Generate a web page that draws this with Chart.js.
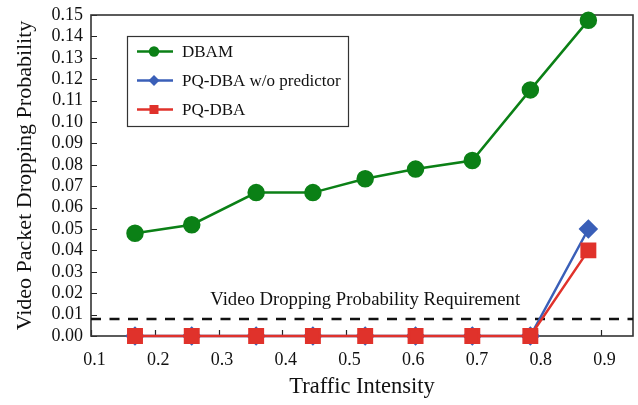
<!DOCTYPE html>
<html>
<head>
<meta charset="utf-8">
<script src="https://cdn.jsdelivr.net/npm/chart.js@4"></script>
<style>
  html, body { margin: 0; padding: 0; background: #fff; }
  #wrap { width: 638px; height: 405px; }
</style>
</head>
<body>
<div id="wrap"><canvas id="dropChart"></canvas></div>
<script>
// traffic intensity of each run
const trafficX = [0.169, 0.258, 0.359, 0.448, 0.530, 0.609, 0.698, 0.789, 0.880];

const dbamVals = [0.048, 0.052, 0.067, 0.067, 0.0735, 0.078, 0.082, 0.115, 0.1475];
const pqNoPredVals = [0, 0, 0, 0, 0, 0, 0, 0, 0.050];
const pqDbaVals = [0, 0, 0, 0, 0, 0, 0, 0, 0.040];

const xTicks = [0.1, 0.2, 0.3, 0.4, 0.5, 0.6, 0.7, 0.8, 0.9];
const yTicks = [0, 0.01, 0.02, 0.03, 0.04, 0.05, 0.06, 0.07, 0.08, 0.09, 0.10, 0.11, 0.12, 0.13, 0.14, 0.15];

const requirement = 0.008;
const reqLabel = 'Video Dropping Probability Requirement';
const reqLabelPos = { x: 0.53, y: 0.0170 };

const serif = '"Liberation Serif", "DejaVu Serif", serif';
const GREEN = '#0b8016';
const BLUE = '#3a5fb8';
const RED = '#e0322b';

function toPoints(vals) {
    return vals.map((v, i) => ({ x: trafficX[i], y: v }));
}

// keep the plot box exactly where the figure has it
function noScalePadding(s) {
    s.paddingLeft = 0;
    s.paddingRight = 0;
    s.paddingTop = 0;
    s.paddingBottom = 0;
}

// frame + inward ticks under the lines, requirement text and boxed legend on top
const decorPlugin = {
    id: 'decor',
    beforeDatasetsDraw(chart) {
        const ctx = chart.ctx;
        const a = chart.chartArea;
        const xs = chart.scales.x;
        const ys = chart.scales.y;
        ctx.save();

        ctx.strokeStyle = '#222';
        ctx.lineWidth = 1.2;
        ctx.beginPath();
        xTicks.forEach(t => {
            const px = Math.round(xs.getPixelForValue(t)) + 0.5;
            ctx.moveTo(px, a.bottom);
            ctx.lineTo(px, a.bottom - 6);
        });
        yTicks.forEach(t => {
            const py = Math.round(ys.getPixelForValue(t)) + 0.5;
            ctx.moveTo(a.left, py);
            ctx.lineTo(a.left + 6, py);
        });
        ctx.stroke();

        ctx.strokeStyle = '#333';
        ctx.lineWidth = 1.6;
        ctx.strokeRect(a.left, a.top, a.right - a.left, a.bottom - a.top);
        ctx.restore();
    },
    afterDatasetsDraw(chart) {
        const ctx = chart.ctx;
        const a = chart.chartArea;
        const xs = chart.scales.x;
        const ys = chart.scales.y;
        ctx.save();

        // requirement label
        ctx.fillStyle = '#111';
        ctx.font = '18.7px ' + serif;
        ctx.textAlign = 'center';
        ctx.textBaseline = 'middle';
        ctx.fillText(reqLabel, xs.getPixelForValue(reqLabelPos.x), ys.getPixelForValue(reqLabelPos.y));

        // legend
        const bx = a.left + 36, by = a.top + 21, bw = 221, bh = 90;
        ctx.fillStyle = '#fff';
        ctx.fillRect(bx, by, bw, bh);
        ctx.strokeStyle = '#333';
        ctx.lineWidth = 1.2;
        ctx.strokeRect(bx + 0.5, by + 0.5, bw, bh);

        const entries = chart.data.datasets
            .filter(d => d.inLegend)
            .sort((p, q) => q.order - p.order);
        entries.forEach((d, i) => {
            const y = by + 15.5 + i * 29;
            ctx.strokeStyle = d.borderColor;
            ctx.lineWidth = d.borderWidth;
            ctx.beginPath();
            ctx.moveTo(bx + 10, y);
            ctx.lineTo(bx + 46, y);
            ctx.stroke();

            // legend markers are drawn smaller than the plot ones
            const mx = bx + 27;
            ctx.fillStyle = d.pointBackgroundColor;
            ctx.beginPath();
            if (d.pointStyle === 'circle') {
                ctx.arc(mx, y, 5.2, 0, Math.PI * 2);
            } else if (d.pointStyle === 'rect') {
                ctx.rect(mx - 4.5, y - 4.5, 9, 9);
            } else {
                const s = 5.5;
                ctx.moveTo(mx, y - s);
                ctx.lineTo(mx + s, y);
                ctx.lineTo(mx, y + s);
                ctx.lineTo(mx - s, y);
                ctx.closePath();
            }
            ctx.fill();

            ctx.fillStyle = '#111';
            ctx.font = '17px ' + serif;
            ctx.textAlign = 'left';
            ctx.textBaseline = 'middle';
            ctx.fillText(d.label, bx + 55, y + 1);
        });

        ctx.restore();
    }
};

const ctx = document.getElementById('dropChart').getContext('2d');
const chart = new Chart(ctx, {
    type: 'line',
    data: {
        datasets: [
            {
                label: 'PQ-DBA',
                data: toPoints(pqDbaVals),
                borderColor: RED,
                backgroundColor: RED,
                pointBackgroundColor: RED,
                pointBorderColor: RED,
                pointStyle: 'rect',
                pointRadius: 9.5,
                borderWidth: 2.5,
                clip: false,
                order: 0,
                inLegend: true
            },
            {
                label: 'PQ-DBA w/o predictor',
                data: toPoints(pqNoPredVals),
                borderColor: BLUE,
                backgroundColor: BLUE,
                pointBackgroundColor: BLUE,
                pointBorderColor: BLUE,
                pointStyle: 'rectRot',
                pointRadius: 8,
                borderWidth: 2.5,
                clip: false,
                order: 1,
                inLegend: true
            },
            {
                label: 'DBAM',
                data: toPoints(dbamVals),
                borderColor: GREEN,
                backgroundColor: GREEN,
                pointBackgroundColor: GREEN,
                pointBorderColor: GREEN,
                pointStyle: 'circle',
                pointRadius: 7.5,
                borderWidth: 2.5,
                clip: false,
                order: 2,
                inLegend: true
            },
            {
                label: 'requirement',
                data: [{ x: 0.1, y: requirement }, { x: 0.95, y: requirement }],
                borderColor: '#111',
                borderWidth: 2.5,
                borderDash: [10, 8.5],
                pointRadius: 0,
                order: 3,
                inLegend: false
            }
        ]
    },
    options: {
        responsive: true,
        maintainAspectRatio: false,
        animation: false,
        layout: { autoPadding: false, padding: { top: 15, right: 5, left: 0, bottom: 0 } },
        plugins: {
            legend: { display: false },
            tooltip: { enabled: false }
        },
        elements: { line: { tension: 0 } },
        scales: {
            x: {
                type: 'linear',
                min: 0.1,
                max: 0.95,
                afterBuildTicks: s => { s.ticks = xTicks.map(v => ({ value: v })); },
                afterFit: s => { s.height = 69; noScalePadding(s); },
                grid: { display: false, drawTicks: false },
                border: { display: false },
                ticks: {
                    color: '#111',
                    font: { family: serif, size: 18 },
                    padding: 13,
                    labelOffset: 3.5,
                    maxRotation: 0,
                    autoSkip: false,
                    callback: v => v.toFixed(1)
                },
                title: {
                    display: true,
                    text: 'Traffic Intensity',
                    color: '#111',
                    font: { family: serif, size: 22.5 },
                    padding: { top: 0, bottom: 4 }
                }
            },
            y: {
                min: 0,
                max: 0.15,
                afterBuildTicks: s => { s.ticks = yTicks.map(v => ({ value: v })); },
                afterFit: s => { s.width = 91; noScalePadding(s); },
                grid: { display: false, drawTicks: false },
                border: { display: false },
                ticks: {
                    color: '#111',
                    font: { family: serif, size: 18 },
                    padding: 8,
                    autoSkip: false,
                    callback: v => v.toFixed(2)
                },
                title: {
                    display: true,
                    text: 'Video Packet Dropping Probability',
                    color: '#111',
                    font: { family: serif, size: 22 },
                    padding: { top: 12, bottom: 0 }
                }
            }
        }
    },
    plugins: [decorPlugin]
});
</script>
</body>
</html>
